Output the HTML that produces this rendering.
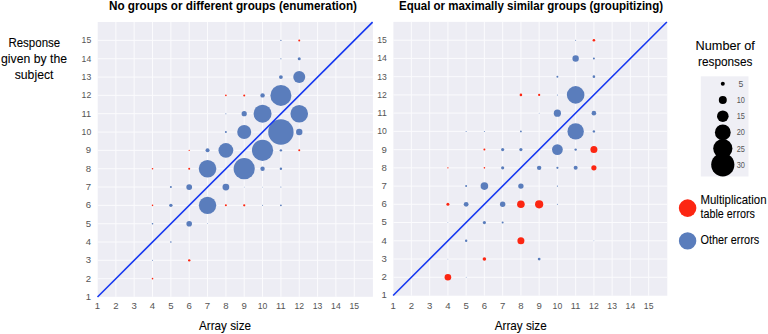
<!DOCTYPE html>
<html><head><meta charset="utf-8">
<style>
html,body{margin:0;padding:0;background:#fff;}
body{width:768px;height:334px;overflow:hidden;}
svg{display:block;}
text{font-family:"Liberation Sans",sans-serif;}
.tk{font-size:9.6px;fill:#555;}
.tk2{font-size:8.6px;fill:#555;}
.ttl{font-size:12.1px;font-weight:bold;fill:#000;}
.lbl{font-size:11.9px;fill:#000;stroke:#000;stroke-width:0.08px;}
</style></head><body>
<svg width="768" height="334" viewBox="0 0 768 334">
<rect width="768" height="334" fill="#fff"/>
<rect x="97.70" y="22.00" width="275.20" height="274.80" fill="#EDEDF4"/>
<line x1="115.84" y1="22.00" x2="115.84" y2="296.80" stroke="#FBFBFD" stroke-width="1"/>
<line x1="97.70" y1="278.67" x2="372.90" y2="278.67" stroke="#FBFBFD" stroke-width="1"/>
<line x1="134.18" y1="22.00" x2="134.18" y2="296.80" stroke="#FBFBFD" stroke-width="1"/>
<line x1="97.70" y1="260.34" x2="372.90" y2="260.34" stroke="#FBFBFD" stroke-width="1"/>
<line x1="152.52" y1="22.00" x2="152.52" y2="296.80" stroke="#FBFBFD" stroke-width="1"/>
<line x1="97.70" y1="242.01" x2="372.90" y2="242.01" stroke="#FBFBFD" stroke-width="1"/>
<line x1="170.86" y1="22.00" x2="170.86" y2="296.80" stroke="#FBFBFD" stroke-width="1"/>
<line x1="97.70" y1="223.69" x2="372.90" y2="223.69" stroke="#FBFBFD" stroke-width="1"/>
<line x1="189.20" y1="22.00" x2="189.20" y2="296.80" stroke="#FBFBFD" stroke-width="1"/>
<line x1="97.70" y1="205.36" x2="372.90" y2="205.36" stroke="#FBFBFD" stroke-width="1"/>
<line x1="207.54" y1="22.00" x2="207.54" y2="296.80" stroke="#FBFBFD" stroke-width="1"/>
<line x1="97.70" y1="187.03" x2="372.90" y2="187.03" stroke="#FBFBFD" stroke-width="1"/>
<line x1="225.88" y1="22.00" x2="225.88" y2="296.80" stroke="#FBFBFD" stroke-width="1"/>
<line x1="97.70" y1="168.70" x2="372.90" y2="168.70" stroke="#FBFBFD" stroke-width="1"/>
<line x1="244.22" y1="22.00" x2="244.22" y2="296.80" stroke="#FBFBFD" stroke-width="1"/>
<line x1="97.70" y1="150.37" x2="372.90" y2="150.37" stroke="#FBFBFD" stroke-width="1"/>
<line x1="262.56" y1="22.00" x2="262.56" y2="296.80" stroke="#FBFBFD" stroke-width="1"/>
<line x1="97.70" y1="132.04" x2="372.90" y2="132.04" stroke="#FBFBFD" stroke-width="1"/>
<line x1="280.90" y1="22.00" x2="280.90" y2="296.80" stroke="#FBFBFD" stroke-width="1"/>
<line x1="97.70" y1="113.71" x2="372.90" y2="113.71" stroke="#FBFBFD" stroke-width="1"/>
<line x1="299.24" y1="22.00" x2="299.24" y2="296.80" stroke="#FBFBFD" stroke-width="1"/>
<line x1="97.70" y1="95.38" x2="372.90" y2="95.38" stroke="#FBFBFD" stroke-width="1"/>
<line x1="317.58" y1="22.00" x2="317.58" y2="296.80" stroke="#FBFBFD" stroke-width="1"/>
<line x1="97.70" y1="77.06" x2="372.90" y2="77.06" stroke="#FBFBFD" stroke-width="1"/>
<line x1="335.92" y1="22.00" x2="335.92" y2="296.80" stroke="#FBFBFD" stroke-width="1"/>
<line x1="97.70" y1="58.73" x2="372.90" y2="58.73" stroke="#FBFBFD" stroke-width="1"/>
<line x1="354.26" y1="22.00" x2="354.26" y2="296.80" stroke="#FBFBFD" stroke-width="1"/>
<line x1="97.70" y1="40.40" x2="372.90" y2="40.40" stroke="#FBFBFD" stroke-width="1"/>
<text x="97.50" y="309.3" class="tk" text-anchor="middle">1</text>
<text x="91.20" y="299.90" class="tk" text-anchor="end">1</text>
<text x="115.84" y="309.3" class="tk" text-anchor="middle">2</text>
<text x="91.20" y="281.57" class="tk" text-anchor="end">2</text>
<text x="134.18" y="309.3" class="tk" text-anchor="middle">3</text>
<text x="91.20" y="263.24" class="tk" text-anchor="end">3</text>
<text x="152.52" y="309.3" class="tk" text-anchor="middle">4</text>
<text x="91.20" y="244.91" class="tk" text-anchor="end">4</text>
<text x="170.86" y="309.3" class="tk" text-anchor="middle">5</text>
<text x="91.20" y="226.59" class="tk" text-anchor="end">5</text>
<text x="189.20" y="309.3" class="tk" text-anchor="middle">6</text>
<text x="91.20" y="208.26" class="tk" text-anchor="end">6</text>
<text x="207.54" y="309.3" class="tk" text-anchor="middle">7</text>
<text x="91.20" y="189.93" class="tk" text-anchor="end">7</text>
<text x="225.88" y="309.3" class="tk" text-anchor="middle">8</text>
<text x="91.20" y="171.60" class="tk" text-anchor="end">8</text>
<text x="244.22" y="309.3" class="tk" text-anchor="middle">9</text>
<text x="91.20" y="153.27" class="tk" text-anchor="end">9</text>
<text x="262.56" y="309.3" class="tk" text-anchor="middle" textLength="9.6" lengthAdjust="spacingAndGlyphs">10</text>
<text x="91.20" y="134.94" class="tk" text-anchor="end" textLength="9.6" lengthAdjust="spacingAndGlyphs">10</text>
<text x="280.90" y="309.3" class="tk" text-anchor="middle" textLength="9.6" lengthAdjust="spacingAndGlyphs">11</text>
<text x="91.20" y="116.61" class="tk" text-anchor="end" textLength="9.6" lengthAdjust="spacingAndGlyphs">11</text>
<text x="299.24" y="309.3" class="tk" text-anchor="middle" textLength="9.6" lengthAdjust="spacingAndGlyphs">12</text>
<text x="91.20" y="98.28" class="tk" text-anchor="end" textLength="9.6" lengthAdjust="spacingAndGlyphs">12</text>
<text x="317.58" y="309.3" class="tk" text-anchor="middle" textLength="9.6" lengthAdjust="spacingAndGlyphs">13</text>
<text x="91.20" y="79.96" class="tk" text-anchor="end" textLength="9.6" lengthAdjust="spacingAndGlyphs">13</text>
<text x="335.92" y="309.3" class="tk" text-anchor="middle" textLength="9.6" lengthAdjust="spacingAndGlyphs">14</text>
<text x="91.20" y="61.63" class="tk" text-anchor="end" textLength="9.6" lengthAdjust="spacingAndGlyphs">14</text>
<text x="354.26" y="309.3" class="tk" text-anchor="middle" textLength="9.6" lengthAdjust="spacingAndGlyphs">15</text>
<text x="91.20" y="43.30" class="tk" text-anchor="end" textLength="9.6" lengthAdjust="spacingAndGlyphs">15</text>
<circle cx="280.90" cy="40.40" r="0.6" fill="#5A7DBC"/>
<circle cx="299.24" cy="40.40" r="1.0" fill="#FC2612"/>
<circle cx="280.90" cy="58.73" r="0.6" fill="#5A7DBC"/>
<circle cx="299.24" cy="58.73" r="1.5" fill="#5A7DBC"/>
<circle cx="280.90" cy="77.06" r="1.9" fill="#5A7DBC"/>
<circle cx="299.24" cy="77.06" r="6.0" fill="#5A7DBC"/>
<circle cx="225.88" cy="95.38" r="0.8" fill="#FC2612"/>
<circle cx="244.22" cy="95.38" r="1.0" fill="#FC2612"/>
<circle cx="262.56" cy="95.38" r="2.2" fill="#5A7DBC"/>
<circle cx="280.90" cy="95.38" r="10.5" fill="#5A7DBC"/>
<circle cx="225.88" cy="113.71" r="0.5" fill="#5A7DBC"/>
<circle cx="244.22" cy="113.71" r="2.6" fill="#5A7DBC"/>
<circle cx="262.56" cy="113.71" r="9.0" fill="#5A7DBC"/>
<circle cx="299.24" cy="113.71" r="8.8" fill="#5A7DBC"/>
<circle cx="225.88" cy="132.04" r="1.0" fill="#5A7DBC"/>
<circle cx="244.22" cy="132.04" r="7.0" fill="#5A7DBC"/>
<circle cx="280.90" cy="132.04" r="12.7" fill="#5A7DBC"/>
<circle cx="299.24" cy="132.04" r="3.2" fill="#5A7DBC"/>
<circle cx="189.20" cy="150.37" r="0.7" fill="#FC2612"/>
<circle cx="207.54" cy="150.37" r="2.0" fill="#5A7DBC"/>
<circle cx="225.88" cy="150.37" r="7.4" fill="#5A7DBC"/>
<circle cx="262.56" cy="150.37" r="10.6" fill="#5A7DBC"/>
<circle cx="280.90" cy="150.37" r="1.2" fill="#5A7DBC"/>
<circle cx="299.24" cy="150.37" r="1.0" fill="#FC2612"/>
<circle cx="152.52" cy="168.70" r="0.8" fill="#FC2612"/>
<circle cx="189.20" cy="168.70" r="1.0" fill="#FC2612"/>
<circle cx="207.54" cy="168.70" r="8.8" fill="#5A7DBC"/>
<circle cx="244.22" cy="168.70" r="10.6" fill="#5A7DBC"/>
<circle cx="262.56" cy="168.70" r="2.2" fill="#5A7DBC"/>
<circle cx="280.90" cy="168.70" r="1.2" fill="#5A7DBC"/>
<circle cx="170.86" cy="187.03" r="1.0" fill="#5A7DBC"/>
<circle cx="189.20" cy="187.03" r="2.9" fill="#5A7DBC"/>
<circle cx="225.88" cy="187.03" r="3.4" fill="#5A7DBC"/>
<circle cx="244.22" cy="187.03" r="0.4" fill="#5A7DBC"/>
<circle cx="262.56" cy="187.03" r="0.4" fill="#5A7DBC"/>
<circle cx="280.90" cy="187.03" r="0.5" fill="#5A7DBC"/>
<circle cx="152.52" cy="205.36" r="0.8" fill="#FC2612"/>
<circle cx="170.86" cy="205.36" r="1.7" fill="#5A7DBC"/>
<circle cx="207.54" cy="205.36" r="8.7" fill="#5A7DBC"/>
<circle cx="225.88" cy="205.36" r="1.0" fill="#FC2612"/>
<circle cx="244.22" cy="205.36" r="1.1" fill="#FC2612"/>
<circle cx="262.56" cy="205.36" r="0.5" fill="#5A7DBC"/>
<circle cx="280.90" cy="205.36" r="0.9" fill="#5A7DBC"/>
<circle cx="152.52" cy="223.69" r="0.8" fill="#5A7DBC"/>
<circle cx="189.20" cy="223.69" r="2.8" fill="#5A7DBC"/>
<circle cx="207.54" cy="223.69" r="0.4" fill="#5A7DBC"/>
<circle cx="170.86" cy="242.01" r="0.8" fill="#5A7DBC"/>
<circle cx="152.52" cy="260.34" r="0.5" fill="#5A7DBC"/>
<circle cx="189.20" cy="260.34" r="1.2" fill="#FC2612"/>
<circle cx="152.52" cy="278.67" r="0.8" fill="#FC2612"/>
<line x1="97.50" y1="297.00" x2="372.60" y2="22.07" stroke="#1638F0" stroke-width="1.6"/>
<text x="109" y="10.2" class="ttl" textLength="248" lengthAdjust="spacingAndGlyphs">No groups or different groups (enumeration)</text>
<text x="199" y="330" class="lbl" textLength="52" lengthAdjust="spacingAndGlyphs">Array size</text>
<rect x="393.40" y="21.90" width="273.90" height="273.80" fill="#EDEDF4"/>
<line x1="411.40" y1="21.90" x2="411.40" y2="295.70" stroke="#FBFBFD" stroke-width="1"/>
<line x1="393.40" y1="277.26" x2="667.30" y2="277.26" stroke="#FBFBFD" stroke-width="1"/>
<line x1="429.65" y1="21.90" x2="429.65" y2="295.70" stroke="#FBFBFD" stroke-width="1"/>
<line x1="393.40" y1="259.03" x2="667.30" y2="259.03" stroke="#FBFBFD" stroke-width="1"/>
<line x1="447.90" y1="21.90" x2="447.90" y2="295.70" stroke="#FBFBFD" stroke-width="1"/>
<line x1="393.40" y1="240.79" x2="667.30" y2="240.79" stroke="#FBFBFD" stroke-width="1"/>
<line x1="466.15" y1="21.90" x2="466.15" y2="295.70" stroke="#FBFBFD" stroke-width="1"/>
<line x1="393.40" y1="222.56" x2="667.30" y2="222.56" stroke="#FBFBFD" stroke-width="1"/>
<line x1="484.40" y1="21.90" x2="484.40" y2="295.70" stroke="#FBFBFD" stroke-width="1"/>
<line x1="393.40" y1="204.32" x2="667.30" y2="204.32" stroke="#FBFBFD" stroke-width="1"/>
<line x1="502.65" y1="21.90" x2="502.65" y2="295.70" stroke="#FBFBFD" stroke-width="1"/>
<line x1="393.40" y1="186.08" x2="667.30" y2="186.08" stroke="#FBFBFD" stroke-width="1"/>
<line x1="520.90" y1="21.90" x2="520.90" y2="295.70" stroke="#FBFBFD" stroke-width="1"/>
<line x1="393.40" y1="167.85" x2="667.30" y2="167.85" stroke="#FBFBFD" stroke-width="1"/>
<line x1="539.15" y1="21.90" x2="539.15" y2="295.70" stroke="#FBFBFD" stroke-width="1"/>
<line x1="393.40" y1="149.61" x2="667.30" y2="149.61" stroke="#FBFBFD" stroke-width="1"/>
<line x1="557.40" y1="21.90" x2="557.40" y2="295.70" stroke="#FBFBFD" stroke-width="1"/>
<line x1="393.40" y1="131.38" x2="667.30" y2="131.38" stroke="#FBFBFD" stroke-width="1"/>
<line x1="575.65" y1="21.90" x2="575.65" y2="295.70" stroke="#FBFBFD" stroke-width="1"/>
<line x1="393.40" y1="113.14" x2="667.30" y2="113.14" stroke="#FBFBFD" stroke-width="1"/>
<line x1="593.90" y1="21.90" x2="593.90" y2="295.70" stroke="#FBFBFD" stroke-width="1"/>
<line x1="393.40" y1="94.90" x2="667.30" y2="94.90" stroke="#FBFBFD" stroke-width="1"/>
<line x1="612.15" y1="21.90" x2="612.15" y2="295.70" stroke="#FBFBFD" stroke-width="1"/>
<line x1="393.40" y1="76.67" x2="667.30" y2="76.67" stroke="#FBFBFD" stroke-width="1"/>
<line x1="630.40" y1="21.90" x2="630.40" y2="295.70" stroke="#FBFBFD" stroke-width="1"/>
<line x1="393.40" y1="58.43" x2="667.30" y2="58.43" stroke="#FBFBFD" stroke-width="1"/>
<line x1="648.65" y1="21.90" x2="648.65" y2="295.70" stroke="#FBFBFD" stroke-width="1"/>
<line x1="393.40" y1="40.20" x2="667.30" y2="40.20" stroke="#FBFBFD" stroke-width="1"/>
<text x="393.15" y="309.3" class="tk" text-anchor="middle">1</text>
<text x="386.90" y="298.40" class="tk" text-anchor="end">1</text>
<text x="411.40" y="309.3" class="tk" text-anchor="middle">2</text>
<text x="386.90" y="280.16" class="tk" text-anchor="end">2</text>
<text x="429.65" y="309.3" class="tk" text-anchor="middle">3</text>
<text x="386.90" y="261.93" class="tk" text-anchor="end">3</text>
<text x="447.90" y="309.3" class="tk" text-anchor="middle">4</text>
<text x="386.90" y="243.69" class="tk" text-anchor="end">4</text>
<text x="466.15" y="309.3" class="tk" text-anchor="middle">5</text>
<text x="386.90" y="225.46" class="tk" text-anchor="end">5</text>
<text x="484.40" y="309.3" class="tk" text-anchor="middle">6</text>
<text x="386.90" y="207.22" class="tk" text-anchor="end">6</text>
<text x="502.65" y="309.3" class="tk" text-anchor="middle">7</text>
<text x="386.90" y="188.98" class="tk" text-anchor="end">7</text>
<text x="520.90" y="309.3" class="tk" text-anchor="middle">8</text>
<text x="386.90" y="170.75" class="tk" text-anchor="end">8</text>
<text x="539.15" y="309.3" class="tk" text-anchor="middle">9</text>
<text x="386.90" y="152.51" class="tk" text-anchor="end">9</text>
<text x="557.40" y="309.3" class="tk" text-anchor="middle" textLength="9.6" lengthAdjust="spacingAndGlyphs">10</text>
<text x="386.90" y="134.28" class="tk" text-anchor="end" textLength="9.6" lengthAdjust="spacingAndGlyphs">10</text>
<text x="575.65" y="309.3" class="tk" text-anchor="middle" textLength="9.6" lengthAdjust="spacingAndGlyphs">11</text>
<text x="386.90" y="116.04" class="tk" text-anchor="end" textLength="9.6" lengthAdjust="spacingAndGlyphs">11</text>
<text x="593.90" y="309.3" class="tk" text-anchor="middle" textLength="9.6" lengthAdjust="spacingAndGlyphs">12</text>
<text x="386.90" y="97.80" class="tk" text-anchor="end" textLength="9.6" lengthAdjust="spacingAndGlyphs">12</text>
<text x="612.15" y="309.3" class="tk" text-anchor="middle" textLength="9.6" lengthAdjust="spacingAndGlyphs">13</text>
<text x="386.90" y="79.57" class="tk" text-anchor="end" textLength="9.6" lengthAdjust="spacingAndGlyphs">13</text>
<text x="630.40" y="309.3" class="tk" text-anchor="middle" textLength="9.6" lengthAdjust="spacingAndGlyphs">14</text>
<text x="386.90" y="61.33" class="tk" text-anchor="end" textLength="9.6" lengthAdjust="spacingAndGlyphs">14</text>
<text x="648.65" y="309.3" class="tk" text-anchor="middle" textLength="9.6" lengthAdjust="spacingAndGlyphs">15</text>
<text x="386.90" y="43.10" class="tk" text-anchor="end" textLength="9.6" lengthAdjust="spacingAndGlyphs">15</text>
<circle cx="575.65" cy="40.20" r="0.5" fill="#5A7DBC"/>
<circle cx="593.90" cy="40.20" r="1.3" fill="#FC2612"/>
<circle cx="575.65" cy="58.43" r="3.2" fill="#5A7DBC"/>
<circle cx="593.90" cy="58.43" r="1.0" fill="#5A7DBC"/>
<circle cx="557.40" cy="76.67" r="1.0" fill="#5A7DBC"/>
<circle cx="593.90" cy="76.67" r="1.3" fill="#5A7DBC"/>
<circle cx="520.90" cy="94.90" r="1.3" fill="#FC2612"/>
<circle cx="539.15" cy="94.90" r="1.1" fill="#FC2612"/>
<circle cx="557.40" cy="94.90" r="0.5" fill="#5A7DBC"/>
<circle cx="575.65" cy="94.90" r="8.8" fill="#5A7DBC"/>
<circle cx="539.15" cy="113.14" r="0.4" fill="#5A7DBC"/>
<circle cx="557.40" cy="113.14" r="3.6" fill="#5A7DBC"/>
<circle cx="593.90" cy="113.14" r="2.3" fill="#5A7DBC"/>
<circle cx="466.15" cy="131.38" r="0.5" fill="#5A7DBC"/>
<circle cx="484.40" cy="131.38" r="0.5" fill="#5A7DBC"/>
<circle cx="520.90" cy="131.38" r="0.9" fill="#5A7DBC"/>
<circle cx="575.65" cy="131.38" r="8.2" fill="#5A7DBC"/>
<circle cx="593.90" cy="131.38" r="1.2" fill="#5A7DBC"/>
<circle cx="484.40" cy="149.61" r="1.0" fill="#FC2612"/>
<circle cx="502.65" cy="149.61" r="1.6" fill="#5A7DBC"/>
<circle cx="520.90" cy="149.61" r="1.6" fill="#5A7DBC"/>
<circle cx="557.40" cy="149.61" r="5.4" fill="#5A7DBC"/>
<circle cx="575.65" cy="149.61" r="1.2" fill="#5A7DBC"/>
<circle cx="593.90" cy="149.61" r="3.5" fill="#FC2612"/>
<circle cx="447.90" cy="167.85" r="0.7" fill="#FC2612"/>
<circle cx="484.40" cy="167.85" r="0.8" fill="#FC2612"/>
<circle cx="502.65" cy="167.85" r="1.6" fill="#5A7DBC"/>
<circle cx="539.15" cy="167.85" r="2.2" fill="#5A7DBC"/>
<circle cx="557.40" cy="167.85" r="1.1" fill="#5A7DBC"/>
<circle cx="575.65" cy="167.85" r="2.0" fill="#5A7DBC"/>
<circle cx="593.90" cy="167.85" r="2.6" fill="#FC2612"/>
<circle cx="466.15" cy="186.08" r="1.0" fill="#5A7DBC"/>
<circle cx="484.40" cy="186.08" r="3.8" fill="#5A7DBC"/>
<circle cx="520.90" cy="186.08" r="2.7" fill="#5A7DBC"/>
<circle cx="557.40" cy="186.08" r="0.6" fill="#5A7DBC"/>
<circle cx="447.90" cy="204.32" r="1.5" fill="#FC2612"/>
<circle cx="466.15" cy="204.32" r="2.4" fill="#5A7DBC"/>
<circle cx="502.65" cy="204.32" r="2.7" fill="#5A7DBC"/>
<circle cx="520.90" cy="204.32" r="3.8" fill="#FC2612"/>
<circle cx="539.15" cy="204.32" r="4.1" fill="#FC2612"/>
<circle cx="557.40" cy="204.32" r="0.5" fill="#5A7DBC"/>
<circle cx="447.90" cy="222.56" r="0.4" fill="#5A7DBC"/>
<circle cx="484.40" cy="222.56" r="1.6" fill="#5A7DBC"/>
<circle cx="502.65" cy="222.56" r="1.0" fill="#5A7DBC"/>
<circle cx="466.15" cy="240.79" r="1.2" fill="#5A7DBC"/>
<circle cx="520.90" cy="240.79" r="3.5" fill="#FC2612"/>
<circle cx="593.90" cy="240.79" r="0.4" fill="#5A7DBC"/>
<circle cx="447.90" cy="259.03" r="0.4" fill="#5A7DBC"/>
<circle cx="484.40" cy="259.03" r="1.8" fill="#FC2612"/>
<circle cx="539.15" cy="259.03" r="1.4" fill="#5A7DBC"/>
<circle cx="447.90" cy="277.26" r="3.3" fill="#FC2612"/>
<circle cx="466.15" cy="277.26" r="0.4" fill="#5A7DBC"/>
<line x1="393.15" y1="295.50" x2="666.90" y2="21.96" stroke="#1638F0" stroke-width="1.6"/>
<text x="399" y="10.2" class="ttl" textLength="264" lengthAdjust="spacingAndGlyphs">Equal or maximally similar groups (groupitizing)</text>
<text x="494.7" y="330" class="lbl" textLength="52" lengthAdjust="spacingAndGlyphs">Array size</text>
<text x="8.4" y="47.2" class="lbl" textLength="51.8" lengthAdjust="spacingAndGlyphs">Response</text>
<text x="1" y="63.3" class="lbl" textLength="66" lengthAdjust="spacingAndGlyphs">given by the</text>
<text x="14.7" y="79.3" class="lbl" textLength="38.8" lengthAdjust="spacingAndGlyphs">subject</text>
<text x="695.6" y="49.6" class="lbl" textLength="59.3" lengthAdjust="spacingAndGlyphs">Number of</text>
<text x="698" y="65.5" class="lbl" textLength="54.5" lengthAdjust="spacingAndGlyphs">responses</text>
<rect x="700.8" y="76.3" width="47.7" height="100.2" fill="#EFEFF5"/>
<circle cx="722.8" cy="83.80" r="2.0" fill="#000"/>
<text x="740.8" y="86.80" class="tk2" text-anchor="middle">5</text>
<circle cx="722.8" cy="100.00" r="4.0" fill="#000"/>
<text x="740.8" y="103.00" class="tk2" text-anchor="middle" textLength="8.2" lengthAdjust="spacingAndGlyphs">10</text>
<circle cx="722.8" cy="116.20" r="5.8" fill="#000"/>
<text x="740.8" y="119.20" class="tk2" text-anchor="middle" textLength="8.2" lengthAdjust="spacingAndGlyphs">15</text>
<circle cx="722.8" cy="132.40" r="7.9" fill="#000"/>
<text x="740.8" y="135.40" class="tk2" text-anchor="middle" textLength="8.2" lengthAdjust="spacingAndGlyphs">20</text>
<circle cx="722.8" cy="148.60" r="9.6" fill="#000"/>
<text x="740.8" y="151.60" class="tk2" text-anchor="middle" textLength="8.2" lengthAdjust="spacingAndGlyphs">25</text>
<circle cx="722.8" cy="164.80" r="11.6" fill="#000"/>
<text x="740.8" y="167.80" class="tk2" text-anchor="middle" textLength="8.2" lengthAdjust="spacingAndGlyphs">30</text>
<circle cx="687.6" cy="208.1" r="8.8" fill="#FC2612"/>
<circle cx="687.6" cy="240.9" r="8.7" fill="#5A7DBC"/>
<text x="700.5" y="203.9" class="lbl" textLength="66" lengthAdjust="spacingAndGlyphs">Multiplication</text>
<text x="700.5" y="217.5" class="lbl" textLength="54.5" lengthAdjust="spacingAndGlyphs">table errors</text>
<text x="700.5" y="243.7" class="lbl" textLength="58.7" lengthAdjust="spacingAndGlyphs">Other errors</text>
</svg>
</body></html>
